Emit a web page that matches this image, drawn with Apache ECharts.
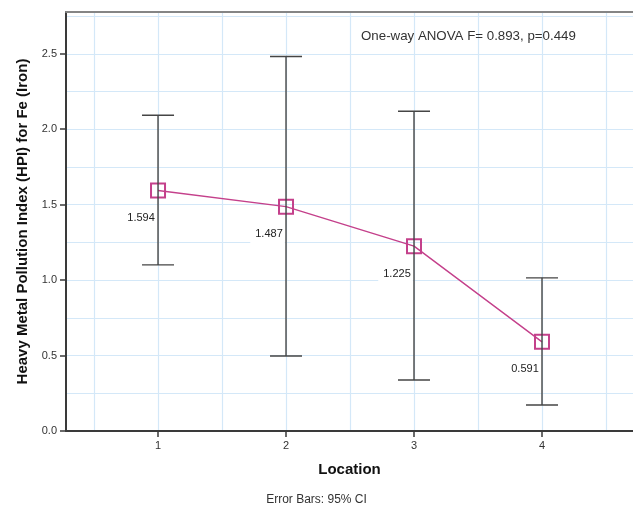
<!DOCTYPE html>
<html>
<head>
<meta charset="utf-8">
<script src="https://cdn.jsdelivr.net/npm/echarts@6/dist/echarts.min.js"></script>
<style>
  html, body { margin: 0; padding: 0; background: #ffffff; }
  #chart { width: 633px; height: 511px; }
</style>
</head>
<body>
<div id="chart"></div>
<script>
// Location means of the Fe heavy metal pollution index with 95% CI
const locations = [1, 2, 3, 4];
const means = [1.594, 1.487, 1.225, 0.591];
const ciLower = [1.101, 0.497, 0.338, 0.172];
const ciUpper = [2.093, 2.482, 2.119, 1.015];

// Axis ticks and reference grid
const yTickValues = [0, 0.5, 1.0, 1.5, 2.0, 2.5];
const xGridValues = [0.5, 1, 1.5, 2, 2.5, 3, 3.5, 4, 4.5];
const yGridValues = [0.25, 0.5, 0.75, 1.0, 1.25, 1.5, 1.75, 2.0, 2.25, 2.5, 2.75];

const annotationText = 'One-way ANOVA F= 0.893, p=0.449';
const footnoteText = 'Error Bars: 95% CI';

const FONT = '"Liberation Sans", Arial, sans-serif';
const PINK = '#c4408b';
const AXIS = '#3a3a3a';
const GRID = '#d4e8f8';

const chart = echarts.init(document.getElementById('chart'), null, { renderer: 'canvas' });

const errorData = locations.map((x, i) => [x, ciLower[i], ciUpper[i]]);
const meanData = locations.map((x, i) => [x, means[i]]);

const gridLines = xGridValues.map(v => ({ xAxis: v }))
  .concat(yGridValues.map(v => ({ yAxis: v })));

chart.setOption({
  animation: false,
  backgroundColor: '#ffffff',
  grid: { left: 66, right: 0, top: 12, bottom: 80, containLabel: false },
  xAxis: [{
    type: 'value',
    min: 0.281,
    max: 4.711,
    position: 'bottom',
    name: 'Location',
    nameLocation: 'middle',
    nameGap: 31,
    nameTextStyle: { fontFamily: FONT, fontSize: 15, fontWeight: 'bold', color: '#111' },
    axisLine: { show: true, lineStyle: { color: AXIS, width: 2 } },
    axisTick: { show: true, length: 6, lineStyle: { color: AXIS, width: 1.5 }, customValues: locations },
    axisLabel: { fontFamily: FONT, fontSize: 11, color: '#333', margin: 9, customValues: locations,
      formatter: v => String(v) },
    splitLine: { show: false }
  }, {
    type: 'value',
    min: 0.281,
    max: 4.711,
    position: 'top',
    axisLine: { show: true, lineStyle: { color: '#858585', width: 2 } },
    axisTick: { show: false },
    axisLabel: { show: false },
    splitLine: { show: false }
  }],
  yAxis: {
    type: 'value',
    min: 0,
    max: 2.777,
    name: 'Heavy Metal Pollution Index (HPI) for Fe (Iron)',
    nameLocation: 'middle',
    nameGap: 27,
    nameTextStyle: { fontFamily: FONT, fontSize: 15, fontWeight: 'bold', color: '#111' },
    axisLine: { show: true, lineStyle: { color: AXIS, width: 2 } },
    axisTick: { show: true, length: 6, lineStyle: { color: AXIS, width: 1.5 }, customValues: yTickValues },
    axisLabel: { fontFamily: FONT, fontSize: 11, color: '#333', margin: 9, customValues: yTickValues,
      formatter: v => v.toFixed(1) },
    splitLine: { show: false }
  },
  graphic: [
    { type: 'text', left: 361, top: 30, z: 10,
      style: { text: annotationText, font: '13.3px ' + FONT, fill: '#333' } },
    { type: 'text', left: 'center', top: 494,
      style: { text: footnoteText, font: '12px ' + FONT, fill: '#333' } }
  ],
  series: [
    {
      // reference grid lines
      type: 'line',
      data: [],
      silent: true,
      z: 0,
      markLine: {
        silent: true,
        symbol: 'none',
        z: 0,
        animation: false,
        label: { show: false },
        lineStyle: { color: GRID, width: 1.2, type: 'solid' },
        emphasis: { disabled: true },
        data: gridLines
      }
    },
    {
      // 95% confidence interval bars
      type: 'custom',
      data: errorData,
      z: 3,
      silent: true,
      renderItem: function (params, api) {
        const x = api.value(0);
        const lo = api.coord([x, api.value(1)]);
        const hi = api.coord([x, api.value(2)]);
        const half = 16;
        const style = { stroke: '#454545', lineWidth: 1.4 };
        return {
          type: 'group',
          children: [
            { type: 'line', shape: { x1: lo[0], y1: lo[1], x2: hi[0], y2: hi[1] }, style: style },
            { type: 'line', shape: { x1: hi[0] - half, y1: hi[1], x2: hi[0] + half, y2: hi[1] }, style: style },
            { type: 'line', shape: { x1: lo[0] - half, y1: lo[1], x2: lo[0] + half, y2: lo[1] }, style: style }
          ]
        };
      }
    },
    {
      // location means
      type: 'line',
      data: meanData,
      z: 2,
      symbol: 'rect',
      symbolSize: 14,
      showAllSymbol: true,
      lineStyle: { color: PINK, width: 1.4 },
      itemStyle: { color: 'rgba(255,255,255,0)', borderColor: PINK, borderWidth: 2 },
      label: {
        show: true,
        position: 'inside',
        offset: [-18.5, 27.5],
        formatter: p => p.value[1].toFixed(3),
        fontFamily: FONT,
        fontSize: 11,
        color: '#222',
        backgroundColor: '#ffffff',
        padding: [3, 2, 4, 5]
      }
    }
  ]
});
</script>
</body>
</html>
